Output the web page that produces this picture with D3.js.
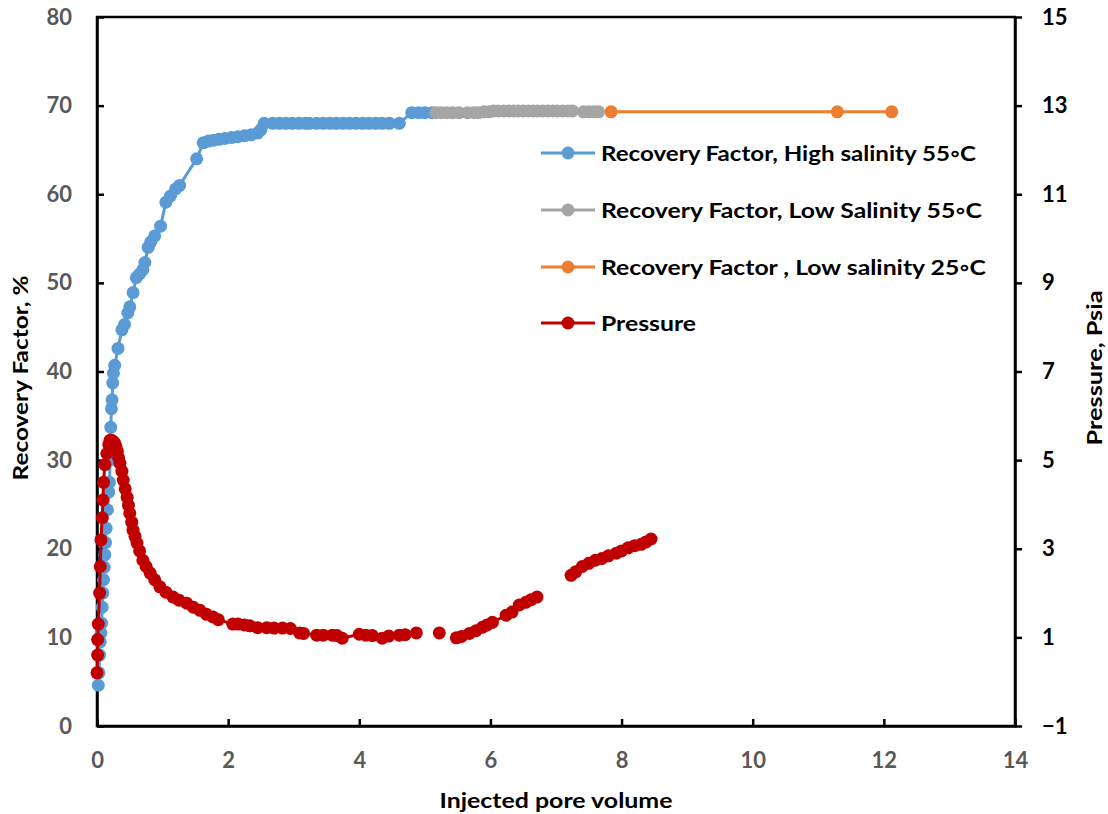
<!DOCTYPE html>
<html>
<head>
<meta charset="utf-8">
<script src="https://cdn.jsdelivr.net/npm/d3@7"></script>
<style>
  html, body { margin: 0; padding: 0; background: #fff; }
  svg { display: block; }
  text { font-family: "Lato", "Open Sans", sans-serif; font-weight: 700; }
</style>
</head>
<body>
<svg id="chart" width="1108" height="814"></svg>
<script>
// Recovery factor, high salinity brine at 55 °C: [injected PV, RF %]
const rfHigh55 = [
  [0.02,4.6],[0.03,6.0],[0.04,8.0],[0.05,9.5],[0.06,10.5],[0.07,11.6],[0.08,13.4],
  [0.09,15.0],[0.10,16.5],[0.11,17.9],[0.12,19.3],[0.13,20.7],[0.14,22.3],[0.16,24.4],
  [0.18,26.4],[0.19,27.5],[0.20,30.0],[0.21,33.7],[0.22,35.8],[0.23,36.8],[0.24,38.7],
  [0.25,39.8],[0.27,40.7],[0.32,42.6],[0.38,44.7],[0.42,45.3],[0.47,46.6],[0.50,47.3],
  [0.55,48.9],[0.60,50.6],[0.65,51.0],[0.70,51.5],[0.73,52.3],[0.78,54.0],[0.82,54.6],
  [0.88,55.3],[0.97,56.4],[1.05,59.1],[1.12,59.8],[1.20,60.6],[1.26,61.0],[1.52,64.0],
  [1.62,65.8],[1.70,66.0],[1.78,66.1],[1.86,66.2],[1.95,66.3],[2.05,66.4],[2.15,66.5],
  [2.25,66.6],[2.35,66.7],[2.45,66.9],[2.50,67.3],[2.55,68.0],[2.68,68.0],[2.78,68.0],
  [2.88,68.0],[2.98,68.0],[3.08,68.0],[3.18,68.0],[3.24,68.0],[3.35,68.0],[3.45,68.0],
  [3.55,68.0],[3.65,68.0],[3.75,68.0],[3.85,68.0],[3.95,68.0],[4.05,68.0],[4.15,68.0],
  [4.25,68.0],[4.35,68.0],[4.46,68.0],[4.61,68.0],[4.80,69.2],[4.90,69.2],[5.00,69.2],
  [5.11,69.2]
];

// Recovery factor, low salinity brine at 55 °C
const rfLow55 = [
  [5.17,69.2],[5.25,69.2],[5.33,69.2],[5.42,69.2],[5.52,69.2],[5.65,69.2],[5.75,69.2],
  [5.82,69.2],[5.90,69.3],[5.98,69.3],[6.05,69.4],[6.12,69.4],[6.20,69.4],[6.28,69.4],
  [6.35,69.4],[6.42,69.4],[6.50,69.4],[6.58,69.4],[6.65,69.4],[6.72,69.4],[6.80,69.4],
  [6.88,69.4],[6.95,69.4],[7.02,69.4],[7.10,69.4],[7.18,69.4],[7.25,69.4],[7.42,69.3],
  [7.50,69.3],[7.58,69.3],[7.65,69.3]
];

// Recovery factor, low salinity brine at 25 °C
const rfLow25 = [[7.84,69.3],[11.29,69.3],[12.12,69.3]];

// Differential pressure, psia (null marks a break in the record)
const pressure = [
  [0.00,0.2],[0.01,0.6],[0.01,0.95],[0.02,1.3],[0.04,2.0],[0.05,2.6],[0.06,3.2],
  [0.08,3.7],[0.09,4.1],[0.10,4.5],[0.12,4.9],[0.15,5.15],[0.18,5.35],[0.20,5.45],
  [0.22,5.45],[0.25,5.42],[0.27,5.38],[0.29,5.3],[0.31,5.2],[0.33,5.05],[0.35,4.93],
  [0.38,4.75],[0.40,4.55],[0.43,4.35],[0.46,4.16],[0.48,3.98],[0.50,3.80],[0.53,3.60],
  [0.55,3.42],[0.58,3.28],[0.61,3.13],[0.65,2.95],[0.70,2.74],[0.75,2.60],[0.81,2.45],
  [0.88,2.30],[0.96,2.14],[1.05,2.02],[1.16,1.91],[1.25,1.84],[1.37,1.77],[1.47,1.68],
  [1.57,1.61],[1.67,1.52],[1.77,1.46],[1.85,1.40],[2.07,1.30],[2.15,1.30],[2.25,1.28],
  [2.33,1.26],[2.45,1.22],[2.59,1.22],[2.70,1.21],[2.83,1.21],[2.95,1.20],[3.09,1.10],
  [3.15,1.09],[3.35,1.05],[3.45,1.05],[3.59,1.05],[3.66,1.04],[3.74,0.98],[4.00,1.07],
  [4.10,1.05],[4.20,1.04],[4.35,0.98],[4.45,1.03],[4.61,1.05],[4.70,1.06],[4.87,1.10],
  null,
  [5.22,1.10],
  null,
  [5.48,0.99],[5.56,1.02],[5.68,1.09],[5.78,1.15],[5.88,1.23],[5.95,1.28],[6.03,1.34],
  [6.24,1.50],[6.33,1.57],[6.44,1.73],[6.54,1.79],[6.62,1.85],[6.71,1.91],
  null,
  [7.23,2.40],[7.30,2.48],[7.40,2.60],[7.50,2.67],[7.60,2.74],[7.70,2.78],[7.80,2.84],
  [7.92,2.90],[8.00,2.95],[8.10,3.02],[8.20,3.07],[8.30,3.10],[8.37,3.15],[8.45,3.22]
];

const xTicks = [0, 2, 4, 6, 8, 10, 12, 14];
const leftTicks = [0, 10, 20, 30, 40, 50, 60, 70, 80];
const rightTicks = [-1, 1, 3, 5, 7, 9, 11, 13, 15];

const legendLabels = [
  "Recovery Factor, High salinity 55◦C",
  "Recovery Factor, Low Salinity 55◦C",
  "Recovery Factor , Low salinity 25◦C",
  "Pressure"
];
const legendWidths = [375, 381, 385, 95];
const colors = ["#5b9bd5", "#a5a5a5", "#ed7d31", "#c00000"];

const svg = d3.select("#chart");
const plot = { left: 97, right: 1015, top: 17, bottom: 726 };

const x = d3.scaleLinear().domain([0, 14]).range([plot.left, plot.right]);
const yL = d3.scaleLinear().domain([0, 80]).range([plot.bottom, plot.top]);
const yR = d3.scaleLinear().domain([-1, 15]).range([plot.bottom, plot.top]);

// plot frame
svg.append("rect")
  .attr("x", plot.left).attr("y", plot.top)
  .attr("width", plot.right - plot.left).attr("height", plot.bottom - plot.top)
  .attr("fill", "none").attr("stroke", "#000").attr("stroke-width", 2.5);

// left axis: inward ticks, grey labels
const gL = svg.append("g").attr("transform", `translate(${plot.left},0)`)
  .call(d3.axisLeft(yL).tickValues(leftTicks).tickSizeInner(-7).tickSizeOuter(0).tickPadding(25));
// bottom axis: inward ticks
const gB = svg.append("g").attr("transform", `translate(0,${plot.bottom})`)
  .call(d3.axisBottom(x).tickValues(xTicks).tickSizeInner(-7).tickSizeOuter(0).tickPadding(26));
// right axis: outward ticks, black labels
const gR = svg.append("g").attr("transform", `translate(${plot.right},0)`)
  .call(d3.axisRight(yR).tickValues(rightTicks).tickSizeInner(7).tickSizeOuter(0).tickPadding(20));

[gL, gB, gR].forEach(g => {
  g.select(".domain").attr("stroke", "#000").attr("stroke-width", 2.5);
  g.selectAll(".tick line").attr("stroke", "#000").attr("stroke-width", 2.5);
  g.selectAll(".tick text").attr("font-size", 22).style("font-family", "Lato, sans-serif").style("font-weight", 700);
});
gL.selectAll(".tick text").attr("fill", "#595959");
gB.selectAll(".tick text").attr("fill", "#595959");
gR.selectAll(".tick text").attr("fill", "#000");

// axis titles
svg.append("text").attr("x", 556).attr("y", 808).attr("text-anchor", "middle")
  .attr("font-size", 21).attr("fill", "#000")
  .attr("textLength", 233).attr("lengthAdjust", "spacingAndGlyphs").text("Injected pore volume");
svg.append("text").attr("transform", "translate(28,378) rotate(-90)").attr("text-anchor", "middle")
  .attr("font-size", 21).attr("fill", "#000")
  .attr("textLength", 205).attr("lengthAdjust", "spacingAndGlyphs").text("Recovery Factor, %");
svg.append("text").attr("transform", "translate(1102,368) rotate(-90)").attr("text-anchor", "middle")
  .attr("font-size", 21).attr("fill", "#000")
  .attr("textLength", 155).attr("lengthAdjust", "spacingAndGlyphs").text("Pressure, Psia");

// series
function drawSeries(data, yScale, color) {
  const line = d3.line().defined(d => d !== null)
    .x(d => x(d[0])).y(d => yScale(d[1]));
  const g = svg.append("g");
  g.append("path").datum(data).attr("d", line)
    .attr("fill", "none").attr("stroke", color).attr("stroke-width", 3);
  g.selectAll("circle").data(data.filter(d => d !== null)).join("circle")
    .attr("cx", d => x(d[0])).attr("cy", d => yScale(d[1])).attr("r", 6.5)
    .attr("fill", color);
}
drawSeries(rfHigh55, yL, colors[0]);
drawSeries(rfLow55, yL, colors[1]);
drawSeries(rfLow25, yL, colors[2]);
drawSeries(pressure, yR, colors[3]);

// legend
const legendY = [153, 210, 267, 323];
legendLabels.forEach((label, i) => {
  const g = svg.append("g").attr("transform", `translate(541,${legendY[i]})`);
  g.append("line").attr("x1", 0).attr("x2", 54).attr("stroke", colors[i]).attr("stroke-width", 3);
  g.append("circle").attr("cx", 27).attr("r", 6.5).attr("fill", colors[i]);
  g.append("text").attr("x", 60).attr("y", 8).attr("font-size", 21).attr("fill", "#000")
    .attr("textLength", legendWidths[i]).attr("lengthAdjust", "spacingAndGlyphs").text(label);
});
</script>
</body>
</html>
